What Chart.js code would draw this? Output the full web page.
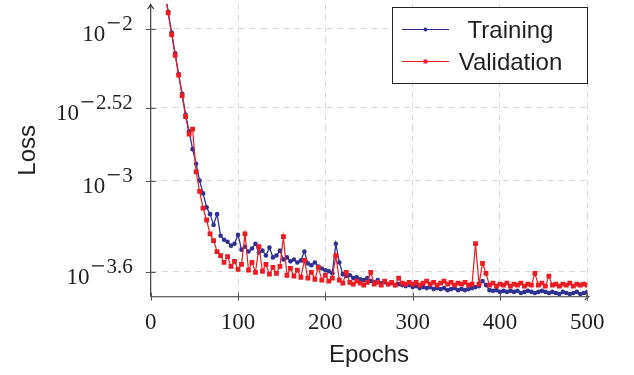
<!DOCTYPE html>
<html lang="en">
<head>
<meta charset="UTF-8">
<title>Training and Validation Loss</title>
<script src="https://cdn.jsdelivr.net/npm/chart.js"></script>
<style>
  html, body { margin: 0; padding: 0; background: #fff; }
  #wrap { width: 634px; height: 375px; }
</style>
</head>
<body>
<div id="wrap"><canvas id="lossChart" width="634" height="375"></canvas></div>

<script>
// epochs (sampled every 4th epoch off the picture)
const epochs = [
  0, 4, 8, 12, 16, 20, 24, 28, 32, 36, 40, 44, 48, 52, 56, 60, 64, 68, 72, 76,
  80, 84, 88, 92, 96, 100, 104, 108, 112, 116, 120, 124, 128, 132, 136, 140, 144, 148, 152, 156,
  160, 164, 168, 172, 176, 180, 184, 188, 192, 196, 200, 204, 208, 212, 216, 220, 224, 228, 232, 236,
  240, 244, 248, 252, 256, 260, 264, 268, 272, 276, 280, 284, 288, 292, 296, 300, 304, 308, 312, 316,
  320, 324, 328, 332, 336, 340, 344, 348, 352, 356, 360, 364, 368, 372, 376, 380, 384, 388, 392, 396,
  400, 404, 408, 412, 416, 420, 424, 428, 432, 436, 440, 444, 448, 452, 456, 460, 464, 468, 472, 476,
  480, 484, 488, 492, 496, 500
];

const trainLoss = [
  6.48e-2, 4.80e-2, 3.46e-2, 2.53e-2, 1.82e-2, 1.29e-2, 9.42e-3, 6.88e-3, 5.03e-3, 3.73e-3,
  2.72e-3, 2.11e-3, 1.61e-3, 1.29e-3, 1.00e-3, 8.23e-4, 6.68e-4, 6.01e-4, 5.10e-4, 6.01e-4,
  4.33e-4, 4.08e-4, 3.96e-4, 3.73e-4, 3.84e-4, 4.39e-4, 3.51e-4, 3.67e-4, 3.41e-4, 3.57e-4,
  3.84e-4, 3.36e-4, 3.46e-4, 3.21e-4, 3.62e-4, 3.12e-4, 3.21e-4, 3.46e-4, 3.02e-4, 3.12e-4,
  2.94e-4, 3.02e-4, 2.89e-4, 2.98e-4, 3.41e-4, 2.85e-4, 2.77e-4, 2.89e-4, 2.72e-4, 2.64e-4,
  2.57e-4, 2.53e-4, 2.45e-4, 3.84e-4, 2.89e-4, 2.42e-4, 2.35e-4, 2.38e-4, 2.28e-4, 2.31e-4,
  2.24e-4, 2.21e-4, 2.28e-4, 2.18e-4, 2.14e-4, 2.21e-4, 2.11e-4, 2.14e-4, 2.08e-4, 2.11e-4,
  2.05e-4, 2.08e-4, 2.05e-4, 2.02e-4, 2.05e-4, 1.99e-4, 2.02e-4, 1.96e-4, 1.99e-4, 1.96e-4,
  1.99e-4, 1.93e-4, 1.96e-4, 1.93e-4, 1.96e-4, 1.90e-4, 1.93e-4, 1.96e-4, 1.90e-4, 1.93e-4,
  1.90e-4, 1.93e-4, 1.96e-4, 1.99e-4, 2.02e-4, 2.18e-4, 2.05e-4, 1.90e-4, 1.88e-4, 1.90e-4,
  1.85e-4, 1.88e-4, 1.85e-4, 1.88e-4, 1.85e-4, 1.88e-4, 1.82e-4, 1.85e-4, 1.88e-4, 1.85e-4,
  1.82e-4, 1.85e-4, 1.88e-4, 1.85e-4, 1.82e-4, 1.85e-4, 1.82e-4, 1.79e-4, 1.85e-4, 1.82e-4,
  1.79e-4, 1.82e-4, 1.85e-4, 1.79e-4, 1.82e-4, 1.85e-4
];

const valLoss = [
  6.68e-2, 4.95e-2, 3.56e-2, 2.56e-2, 1.79e-2, 1.27e-2, 9.14e-3, 6.68e-3, 4.95e-3, 3.62e-3,
  2.64e-3, 2.02e-3, 2.18e-3, 1.14e-3, 8.48e-4, 6.58e-4, 5.50e-4, 4.46e-4, 4.02e-4, 3.41e-4,
  3.21e-4, 2.89e-4, 3.16e-4, 2.72e-4, 2.94e-4, 2.60e-4, 2.81e-4, 4.46e-4, 2.57e-4, 2.89e-4,
  2.49e-4, 3.67e-4, 2.53e-4, 2.81e-4, 2.42e-4, 2.68e-4, 2.45e-4, 2.72e-4, 4.27e-4, 2.38e-4,
  2.64e-4, 2.35e-4, 2.57e-4, 2.31e-4, 2.98e-4, 2.28e-4, 2.49e-4, 2.24e-4, 2.68e-4, 2.21e-4,
  2.38e-4, 2.18e-4, 2.28e-4, 3.21e-4, 2.21e-4, 2.11e-4, 2.49e-4, 2.14e-4, 2.08e-4, 2.18e-4,
  2.11e-4, 2.05e-4, 2.14e-4, 2.49e-4, 2.08e-4, 2.14e-4, 2.05e-4, 2.18e-4, 2.08e-4, 2.14e-4,
  2.05e-4, 2.28e-4, 2.11e-4, 2.08e-4, 2.14e-4, 2.08e-4, 2.14e-4, 2.05e-4, 2.11e-4, 2.18e-4,
  2.08e-4, 2.14e-4, 2.05e-4, 2.11e-4, 2.18e-4, 2.08e-4, 2.14e-4, 2.05e-4, 2.11e-4, 2.08e-4,
  2.14e-4, 2.05e-4, 2.08e-4, 3.84e-4, 2.08e-4, 2.85e-4, 2.45e-4, 2.05e-4, 2.11e-4, 2.02e-4,
  2.08e-4, 2.05e-4, 2.11e-4, 2.02e-4, 2.08e-4, 2.05e-4, 2.11e-4, 2.02e-4, 2.08e-4, 2.05e-4,
  2.45e-4, 2.05e-4, 2.11e-4, 2.02e-4, 2.35e-4, 2.05e-4, 2.08e-4, 2.02e-4, 2.08e-4, 2.05e-4,
  2.11e-4, 2.02e-4, 2.08e-4, 2.05e-4, 2.08e-4, 2.05e-4
];

const xTicks = [0, 100, 200, 300, 400, 500];
// y ticks are 10^-2, 10^-2.52, 10^-3, 10^-3.6
const yTickExps = ['2', '2.52', '3', '3.6'];
const yTicks = yTickExps.map(e => Math.pow(10, -parseFloat(e)));
const yMin = 1.72e-4;
const yMax = 1.453e-2;

const BLUE = '#2e3192';
const RED = '#ec1c24';
const INK = '#231f20';

// white background, axes with arrows, tick labels, titles and boxed legend
const decor = {
  id: 'decor',
  beforeDraw(chart) {
    const ctx = chart.ctx;
    ctx.save();
    ctx.fillStyle = '#fff';
    ctx.fillRect(0, 0, chart.width, chart.height);
    ctx.restore();
  },
  afterDatasetsDraw(chart) {
    const { ctx, chartArea: a, scales: { x, y } } = chart;
    ctx.save();

    // axis lines
    ctx.strokeStyle = '#333';
    ctx.lineWidth = 1.1;
    ctx.beginPath();
    ctx.moveTo(a.left, a.bottom);
    ctx.lineTo(a.left, a.top + 1);
    ctx.moveTo(a.left, a.bottom);
    ctx.lineTo(a.right + 1, a.bottom);
    ctx.stroke();

    // arrow heads
    ctx.beginPath();
    ctx.moveTo(a.left - 3.2, a.top + 5);
    ctx.quadraticCurveTo(a.left - 0.6, a.top + 2.2, a.left, a.top + 0.5);
    ctx.quadraticCurveTo(a.left + 0.6, a.top + 2.2, a.left + 3.2, a.top + 5);
    ctx.moveTo(a.right - 2.5, a.bottom - 3.2);
    ctx.quadraticCurveTo(a.right - 0.2, a.bottom - 0.6, a.right + 1.5, a.bottom);
    ctx.quadraticCurveTo(a.right - 0.2, a.bottom + 0.6, a.right - 2.5, a.bottom + 3.2);
    ctx.stroke();

    // tick marks
    ctx.strokeStyle = '#555';
    ctx.lineWidth = 1;
    ctx.beginPath();
    xTicks.forEach(v => {
      const px = Math.round(x.getPixelForValue(v)) + 0.5;
      ctx.moveTo(px, a.bottom - 4);
      ctx.lineTo(px, a.bottom + 4);
    });
    yTicks.forEach(v => {
      const py = Math.round(y.getPixelForValue(v)) + 0.5;
      ctx.moveTo(a.left - 5, py);
      ctx.lineTo(a.left + 5, py);
    });
    ctx.stroke();

    // x tick labels
    ctx.fillStyle = INK;
    ctx.font = '23px "Liberation Serif"';
    ctx.textAlign = 'center';
    ctx.textBaseline = 'alphabetic';
    xTicks.forEach(v => ctx.fillText(String(v), x.getPixelForValue(v), a.bottom + 32));

    // y tick labels: 10 with raised exponent (wide minus like TeX)
    ctx.textAlign = 'left';
    yTicks.forEach((v, i) => {
      const py = y.getPixelForValue(v);
      const right = a.left - 18;
      ctx.font = '21px "Liberation Serif"';
      const num = yTickExps[i];
      const nw = ctx.measureText(num).width;
      const minusW = 16;
      ctx.fillText(num, right - nw, py + 1);
      // minus sign
      ctx.fillRect(right - nw - minusW + 1.5, py - 6.5, minusW - 4, 1.3);
      ctx.font = '23px "Liberation Serif"';
      const bw = ctx.measureText('10').width;
      ctx.fillText('10', right - nw - minusW - 1 - bw, py + 12);
    });

    // axis titles
    ctx.font = '24px "Liberation Sans"';
    ctx.textAlign = 'center';
    ctx.fillText('Epochs', (a.left + a.right) / 2, 362);
    ctx.save();
    ctx.translate(35, (a.top + a.bottom) / 2);
    ctx.rotate(-Math.PI / 2);
    ctx.fillText('Loss', 0, 0);
    ctx.restore();

    // legend
    const lx = 392.5, ly = 7.5, lw = 195, lh = 76;
    ctx.fillStyle = '#fff';
    ctx.fillRect(lx, ly, lw, lh);
    ctx.strokeStyle = '#222';
    ctx.lineWidth = 1;
    ctx.strokeRect(lx, ly, lw, lh);

    const rows = [
      { label: 'Training', color: BLUE, y: 29.5, square: false },
      { label: 'Validation', color: RED, y: 61.5, square: true }
    ];
    rows.forEach(r => {
      ctx.strokeStyle = r.color;
      ctx.lineWidth = 1;
      ctx.beginPath();
      ctx.moveTo(402, r.y);
      ctx.lineTo(449, r.y);
      ctx.stroke();
      ctx.fillStyle = r.color;
      if (r.square) {
        ctx.fillRect(423.5, r.y - 2, 4, 4);
      } else {
        ctx.beginPath();
        ctx.arc(425.5, r.y, 2, 0, Math.PI * 2);
        ctx.fill();
      }
      ctx.fillStyle = INK;
      ctx.font = '24px "Liberation Sans"';
      ctx.textAlign = 'center';
      ctx.fillText(r.label, 510.5, r.y + 8);
    });

    ctx.restore();
  }
};

const gridStyle = { color: '#d9d9d9', drawTicks: false, lineWidth: 1 };
const borderStyle = { display: false, dash: [6, 5] };

new Chart(document.getElementById('lossChart'), {
  type: 'line',
  data: {
    datasets: [{
      label: 'Training',
      data: epochs.map((e, i) => ({ x: e, y: trainLoss[i] })),
      borderColor: BLUE,
      backgroundColor: BLUE,
      borderWidth: 1.3,
      pointStyle: 'circle',
      pointRadius: 2.3,
      pointBorderWidth: 0,
      pointBackgroundColor: BLUE,
      tension: 0,
      order: 2
    }, {
      label: 'Validation',
      data: epochs.map((e, i) => ({ x: e, y: valLoss[i] })),
      borderColor: RED,
      backgroundColor: RED,
      borderWidth: 1.2,
      pointStyle: 'rect',
      pointRadius: 3.4,
      pointBorderWidth: 0,
      pointBackgroundColor: RED,
      tension: 0,
      order: 1
    }]
  },
  options: {
    responsive: false,
    animation: false,
    events: [],
    layout: { padding: { left: 0, right: 46.7, top: 0, bottom: 0 } },
    plugins: {
      legend: { display: false },
      tooltip: { enabled: false }
    },
    scales: {
      x: {
        type: 'linear',
        min: 0,
        max: 500,
        ticks: { display: false, stepSize: 100 },
        grid: gridStyle,
        border: borderStyle,
        afterFit(s) { s.height = 78.3; }
      },
      y: {
        type: 'logarithmic',
        min: yMin,
        max: yMax,
        ticks: { display: false },
        afterBuildTicks(s) { s.ticks = yTicks.map(v => ({ value: v })); },
        grid: gridStyle,
        border: borderStyle,
        afterFit(s) { s.width = 150.7; }
      }
    }
  },
  plugins: [decor]
});
</script>
</body>
</html>
